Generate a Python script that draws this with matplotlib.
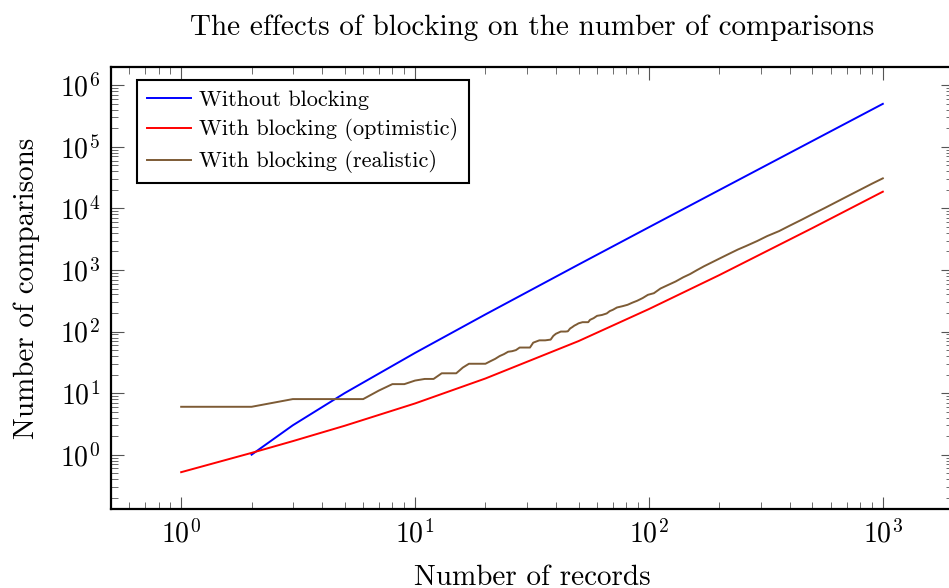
import numpy as np
import matplotlib
matplotlib.use("Agg")
import matplotlib.pyplot as plt
from matplotlib.ticker import LogLocator, NullFormatter

# --- data ---
n_without = [2, 3, 5, 10, 20, 50, 100, 200, 500, 1000]
without_blocking = [1, 3, 10, 45, 190, 1225, 4950, 19900, 124750, 499500]

n_optimistic = [1, 2, 3, 5, 10, 20, 50, 100, 200, 500, 1000]
optimistic = [0.52, 1.07, 1.66, 2.95, 6.8, 17.3, 70, 232, 827, 4800, 18700]

n_realistic = [1, 2, 3, 4, 5, 6, 7, 8, 9, 10, 11, 12, 13, 14, 15, 16, 17, 18,
               19, 20, 21, 22, 23, 24, 25, 26, 27, 28, 29, 30, 31, 32, 33, 34,
               35, 36, 37, 38, 39, 40, 41, 42, 43, 44, 45, 46, 47, 48, 49, 50,
               52, 54, 55, 56, 58, 60, 63, 66, 68, 70, 73, 77, 81, 85, 89, 94,
               99, 105, 112, 120, 130, 140, 150, 160, 172, 185, 200, 220, 240,
               260, 290, 320, 360, 400, 450, 500, 560, 630, 700, 800, 900, 1000]
realistic = [6, 6, 8, 8, 8, 8, 11, 14, 14, 16, 17, 17, 21, 21, 21, 26, 30, 30,
             30, 30, 33, 36, 40, 43, 47, 48, 50, 55, 55, 55, 55, 66, 69, 72,
             72, 72, 73, 74, 85, 92, 96, 100, 100, 100, 101, 112, 118, 125, 130,
             136, 142, 142, 142, 155, 165, 180, 186, 197, 215, 225, 246, 258,
             272, 295, 316, 350, 395, 420, 500, 565, 650, 760, 860, 990, 1150,
             1320, 1530, 1830, 2150, 2450, 2950, 3550, 4280, 5250, 6560, 8060,
             10000, 12600, 15500, 20100, 25300, 30800]

labels = ["Without blocking", "With blocking (optimistic)", "With blocking (realistic)"]

plt.rcParams["font.family"] = "cmr10"
plt.rcParams["mathtext.fontset"] = "cm"
plt.rcParams["axes.formatter.use_mathtext"] = True

fig = plt.figure(figsize=(9.49, 5.88), dpi=100)
ax = fig.add_axes([111 / 949, 1 - 509 / 588, 842 / 949, 442 / 588])

ax.plot(n_without, without_blocking, color="blue", lw=1.4, label=labels[0])
ax.plot(n_optimistic, optimistic, color="red", lw=1.4, label=labels[1])
ax.plot(n_realistic, realistic, color="#7d5b35", lw=1.4, label=labels[2])

ax.set_xscale("log")
ax.set_yscale("log")
ax.set_xlim(10 ** -0.3, 10 ** 3.3)
ax.set_ylim(10 ** -0.882, 10 ** 6.297)

for axis in (ax.xaxis, ax.yaxis):
    axis.set_major_locator(LogLocator(base=10, numticks=100))
    axis.set_minor_locator(LogLocator(base=10, subs=np.arange(2, 10), numticks=100))
    axis.set_minor_formatter(NullFormatter())

ax.tick_params(which="both", direction="in", top=True, right=True,
               color="#555555", labelsize=20)
ax.tick_params(which="major", length=9, width=0.8, pad=8)
ax.tick_params(which="minor", length=5, width=0.6)
for s in ax.spines.values():
    s.set_linewidth(1.6)

ax.set_title("The effects of blocking on the number of comparisons",
             fontsize=21, pad=23)
ax.set_xlabel("Number of records", fontsize=21, labelpad=11)
ax.set_ylabel("Number of comparisons", fontsize=21, labelpad=14)

leg = ax.legend(loc="upper left", bbox_to_anchor=(26 / 842, 1 - 13 / 442),
                borderaxespad=0, fontsize=16, fancybox=False,
                edgecolor="black", framealpha=1, handlelength=2.0,
                labelspacing=0.4, handletextpad=0.36, borderpad=0.45)
leg.get_frame().set_linewidth(1.5)

fig.savefig("out.png", dpi=100)
